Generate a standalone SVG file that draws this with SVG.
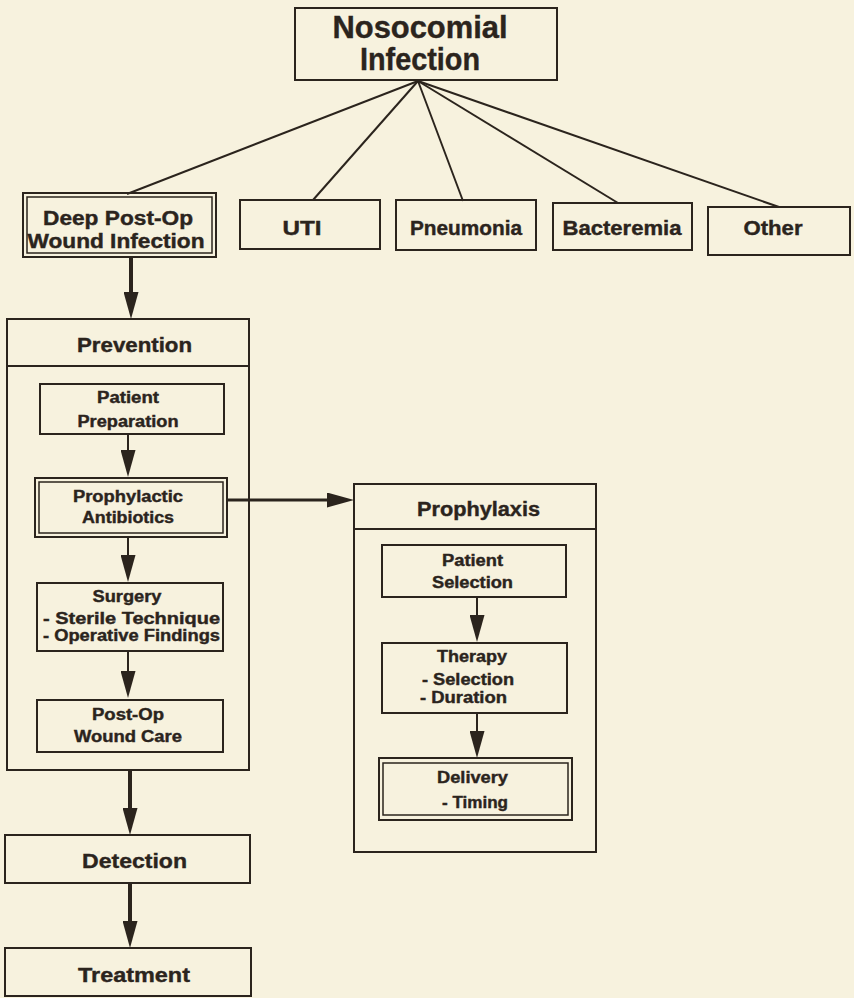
<svg xmlns="http://www.w3.org/2000/svg" width="854" height="998" viewBox="0 0 854 998">
<style>
.bx{fill:none;stroke:#2b241d;stroke-width:2}
.t{font-family:"Liberation Sans",Arial,sans-serif;font-weight:bold;fill:#2b241d;stroke:#2b241d;stroke-width:0.4;text-anchor:middle}
.s{text-anchor:start}
.f16{font-size:16px}
.f20{font-size:20px}
.ln{stroke:#2b241d;stroke-width:2;fill:none}
.th{stroke-width:4}
</style>
<defs>
<marker id="ah" viewBox="0 0 27 15" refX="1" refY="7.5" markerWidth="27" markerHeight="15" markerUnits="userSpaceOnUse" orient="auto">
<path d="M0,0 L27,7.5 L0,15 Z" fill="#2b241d"/>
</marker>
</defs>
<rect x="0" y="0" width="854" height="998" fill="#f7f2de"/>

<g id="connectors">
<line class="ln" x1="418" y1="81" x2="127" y2="194"/>
<line class="ln" x1="418" y1="81" x2="313" y2="200"/>
<line class="ln" x1="418" y1="81" x2="463" y2="201"/>
<line class="ln" x1="418" y1="81" x2="618" y2="203"/>
<line class="ln" x1="418" y1="81" x2="779" y2="207"/>
<line class="ln th" x1="131" y1="257" x2="131" y2="293" marker-end="url(#ah)"/>
<line class="ln" x1="128" y1="434" x2="128" y2="451" marker-end="url(#ah)"/>
<line class="ln" x1="128" y1="537" x2="128" y2="556" marker-end="url(#ah)"/>
<line class="ln" x1="128" y1="651" x2="128" y2="672" marker-end="url(#ah)"/>
<line class="ln th" x1="130" y1="770" x2="130" y2="809" marker-end="url(#ah)"/>
<line class="ln th" x1="130" y1="883" x2="130" y2="922" marker-end="url(#ah)"/>
<line class="ln" style="stroke-width:3" x1="227" y1="500" x2="328" y2="500" marker-end="url(#ah)"/>
<line class="ln" x1="477" y1="597" x2="477" y2="616" marker-end="url(#ah)"/>
<line class="ln" x1="477" y1="713" x2="477" y2="732" marker-end="url(#ah)"/>
</g>

<g id="nosocomial">
<rect class="bx" x="295" y="8" width="262" height="72"/>
<text class="t" x="420" y="38" font-size="31" textLength="175" lengthAdjust="spacingAndGlyphs">Nosocomial</text>
<text class="t" x="420" y="70" font-size="31" textLength="120" lengthAdjust="spacingAndGlyphs">Infection</text>
</g>

<g id="deep">
<rect class="bx" x="23" y="193" width="193" height="64"/>
<rect class="bx" x="27" y="197" width="185" height="56" style="stroke-width:1.5"/>
<text class="t f20" x="118" y="225" textLength="150" lengthAdjust="spacingAndGlyphs">Deep Post-Op</text>
<text class="t f20" x="116" y="248" textLength="177" lengthAdjust="spacingAndGlyphs">Wound Infection</text>
</g>

<g id="uti">
<rect class="bx" x="240" y="200" width="140" height="49"/>
<text class="t f20" x="302" y="235" textLength="39" lengthAdjust="spacingAndGlyphs">UTI</text>
</g>

<g id="pneumonia">
<rect class="bx" x="396" y="200" width="140" height="50"/>
<text class="t f20" x="466" y="235" textLength="112" lengthAdjust="spacingAndGlyphs">Pneumonia</text>
</g>

<g id="bacteremia">
<rect class="bx" x="553" y="203" width="139" height="47"/>
<text class="t f20" x="622" y="235" textLength="119" lengthAdjust="spacingAndGlyphs">Bacteremia</text>
</g>

<g id="other">
<rect class="bx" x="708" y="207" width="142" height="48"/>
<text class="t f20" x="773" y="235" textLength="59" lengthAdjust="spacingAndGlyphs">Other</text>
</g>

<g id="prevention">
<rect class="bx" x="7" y="319" width="242" height="451"/>
<line class="ln" x1="7" y1="366" x2="249" y2="366"/>
<text class="t f20" x="134.5" y="352" textLength="115" lengthAdjust="spacingAndGlyphs">Prevention</text>
</g>

<g id="patient-prep">
<rect class="bx" x="40" y="384" width="184" height="50"/>
<text class="t f16" x="128" y="403" textLength="62" lengthAdjust="spacingAndGlyphs">Patient</text>
<text class="t f16" x="128" y="427" textLength="101" lengthAdjust="spacingAndGlyphs">Preparation</text>
</g>

<g id="prophylactic">
<rect class="bx" x="35" y="478" width="192" height="59"/>
<rect class="bx" x="39" y="482" width="184" height="51" style="stroke-width:1.5"/>
<text class="t f16" x="128" y="502" textLength="110" lengthAdjust="spacingAndGlyphs">Prophylactic</text>
<text class="t f16" x="128" y="523" textLength="92" lengthAdjust="spacingAndGlyphs">Antibiotics</text>
</g>

<g id="surgery">
<rect class="bx" x="37" y="583" width="186" height="68"/>
<text class="t f16" x="127" y="602" textLength="69" lengthAdjust="spacingAndGlyphs">Surgery</text>
<text class="t s f16" x="43" y="624" textLength="177" lengthAdjust="spacingAndGlyphs">- Sterile Technique</text>
<text class="t s f16" x="43" y="641" textLength="177" lengthAdjust="spacingAndGlyphs">- Operative Findings</text>
</g>

<g id="postop">
<rect class="bx" x="37" y="700" width="186" height="52"/>
<text class="t f16" x="128" y="720" textLength="72" lengthAdjust="spacingAndGlyphs">Post-Op</text>
<text class="t f16" x="128" y="742" textLength="108" lengthAdjust="spacingAndGlyphs">Wound Care</text>
</g>

<g id="detection">
<rect class="bx" x="5" y="835" width="245" height="48"/>
<text class="t" x="134.5" y="868" font-size="21" textLength="105" lengthAdjust="spacingAndGlyphs">Detection</text>
</g>

<g id="treatment">
<rect class="bx" x="5" y="948" width="246" height="48"/>
<text class="t" x="134" y="982" font-size="21" textLength="112" lengthAdjust="spacingAndGlyphs">Treatment</text>
</g>

<g id="prophylaxis">
<rect class="bx" x="354" y="484" width="242" height="368"/>
<line class="ln" x1="354" y1="529" x2="596" y2="529"/>
<text class="t f20" x="478.5" y="516" textLength="123" lengthAdjust="spacingAndGlyphs">Prophylaxis</text>
</g>

<g id="patient-sel">
<rect class="bx" x="382" y="545" width="184" height="52"/>
<text class="t f16" x="472.5" y="566" textLength="61" lengthAdjust="spacingAndGlyphs">Patient</text>
<text class="t f16" x="472.5" y="588" textLength="81" lengthAdjust="spacingAndGlyphs">Selection</text>
</g>

<g id="therapy">
<rect class="bx" x="382" y="643" width="185" height="70"/>
<text class="t f16" x="472" y="662" textLength="70" lengthAdjust="spacingAndGlyphs">Therapy</text>
<text class="t s f16" x="422" y="685" textLength="92" lengthAdjust="spacingAndGlyphs">- Selection</text>
<text class="t s f16" x="420" y="703" textLength="87" lengthAdjust="spacingAndGlyphs">- Duration</text>
</g>

<g id="delivery">
<rect class="bx" x="379" y="758" width="193" height="62"/>
<rect class="bx" x="383" y="763" width="185" height="52" style="stroke-width:1.5"/>
<text class="t f16" x="472.5" y="783" textLength="71" lengthAdjust="spacingAndGlyphs">Delivery</text>
<text class="t s f16" x="442" y="808" textLength="66" lengthAdjust="spacingAndGlyphs">- Timing</text>
</g>
</svg>
